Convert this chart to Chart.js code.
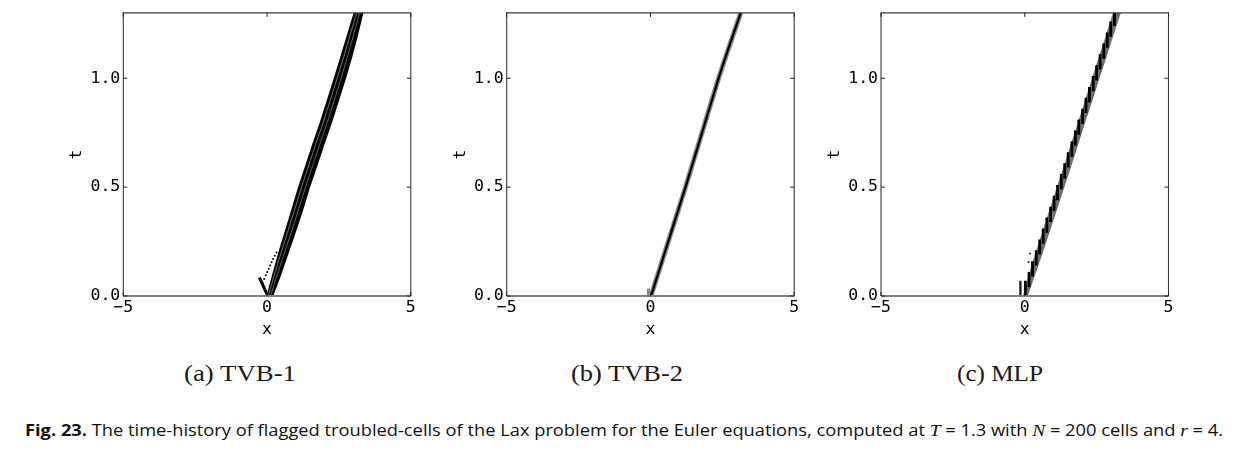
<!DOCTYPE html>
<html><head><meta charset="utf-8">
<script src="https://cdn.jsdelivr.net/npm/chart.js@4.4.1/dist/chart.umd.min.js"></script>
<style>
html,body{margin:0;padding:0;background:#fff;}
body{width:1254px;height:462px;position:relative;overflow:hidden;}
canvas{position:absolute;top:0;}
.sub{position:absolute;top:361px;line-height:26px;font-family:"Liberation Serif","DejaVu Serif",serif;font-size:22.5px;color:#1a1a1a;white-space:nowrap;transform-origin:left top;}
#cap{position:absolute;top:419px;left:25px;line-height:22px;font-family:"Open Sans","Noto Sans",sans-serif;font-size:16px;color:#111;white-space:nowrap;transform-origin:left top;}
#cap i{font-family:"Liberation Serif",serif;font-size:17px;}
</style></head><body>
<canvas id="pa" width="370" height="343"></canvas>
<canvas id="pb" width="370" height="343"></canvas>
<canvas id="pc" width="370" height="343"></canvas>
<div class="sub" id="sa"></div>
<div class="sub" id="sb"></div>
<div class="sub" id="sc"></div>
<div id="cap"><b>Fig. 23.</b> The time-history of flagged troubled-cells of the Lax problem for the Euler equations, computed at <i>T</i> = 1.3 with <i>N</i> = 200 cells and <i>r</i> = 4.</div>
<script>
// ---------- data ----------
const xTicks = [-5, 0, 5];
const tTicks = [0.0, 0.5, 1.0];
const panelTitles = ['(a) TVB-1', '(b) TVB-2', '(c) MLP'];

// (a) TVB-1 : flagged band (left / right edges), inner stripes, left leg, dots
const tvb1T      = [0.00,0.05,0.10,0.20,0.30,0.40,0.50,0.60,0.70,0.80,0.90,1.00,1.10,1.20,1.30];
const tvb1Left   = [-0.02,0.08,0.18,0.39,0.62,0.85,1.08,1.33,1.58,1.84,2.08,2.32,2.55,2.78,3.01];
const tvb1Right  = [0.22,0.36,0.50,0.76,1.02,1.27,1.50,1.76,2.01,2.27,2.51,2.75,2.97,3.17,3.35];
const tvb1StripeA= [0.05,0.15,0.26,0.49,0.73,0.97,1.20,1.45,1.70,1.96,2.20,2.44,2.67,2.89,3.12];
const tvb1StripeB= [0.12,0.24,0.36,0.61,0.86,1.10,1.34,1.59,1.84,2.10,2.34,2.58,2.80,3.01,3.22];
const tvb1LegX   = [0.03,-0.08,-0.18,-0.27];
const tvb1LegT   = [0.00,0.03,0.06,0.085];
const tvb1DotX   = [-0.16,-0.10,-0.04,0.01,0.06,0.11,0.16,0.21,0.27,0.33];
const tvb1DotT   = [0.060,0.078,0.095,0.110,0.125,0.140,0.155,0.170,0.185,0.200];

// (b) TVB-2 : thin flagged line
const tvb2T      = [0.00,0.10,0.20,0.30,0.40,0.50,0.60,0.70,0.80,0.90,1.00,1.10,1.20,1.30];
const tvb2X      = [0.02,0.26,0.50,0.74,0.98,1.22,1.45,1.68,1.91,2.14,2.37,2.62,2.88,3.14];
const tvb2StubX  = [-0.07,-0.07];
const tvb2StubT  = [0.00,0.035];

// (c) MLP : band, saw-teeth, spike, dots
const mlpT       = [0.00,0.05,0.10,0.20,0.30,0.40,0.50,0.60,0.70,0.80,0.90,1.00,1.10,1.20,1.30];
const mlpLeft    = [-0.06,0.04,0.14,0.38,0.62,0.87,1.12,1.37,1.61,1.86,2.10,2.34,2.58,2.83,3.07];
const mlpRight   = [0.10,0.24,0.37,0.63,0.88,1.13,1.38,1.63,1.87,2.11,2.36,2.60,2.85,3.09,3.34];
const mlpToothX  = [0.02,0.15,0.27,0.40,0.52,0.64,0.77,0.90,1.02,1.14,1.27,1.39,1.51,1.64,1.76,1.88,2.01,2.13,2.25,2.38,2.50,2.62,2.75,2.87,2.99,3.12];
const mlpToothT0 = [0.00,0.04,0.09,0.14,0.19,0.24,0.29,0.34,0.39,0.44,0.49,0.54,0.59,0.64,0.69,0.74,0.79,0.84,0.89,0.94,0.99,1.04,1.09,1.14,1.19,1.24];
const mlpToothT1 = [0.07,0.11,0.16,0.21,0.26,0.31,0.36,0.41,0.46,0.51,0.56,0.61,0.66,0.71,0.76,0.81,0.86,0.91,0.96,1.01,1.06,1.11,1.16,1.21,1.26,1.30];
const mlpSpikeX  = [-0.15,-0.15];
const mlpSpikeT  = [0.00,0.07];
const mlpDotX    = [0.13,0.18];
const mlpDotT    = [0.156,0.195];

// ---------- helpers ----------
const zip = (xs, ts) => xs.map((x, i) => ({x: x, y: ts[i]}));
const band = (l, r, ts) => zip(l, ts).concat(zip(r, ts).reverse());
const segs = (xs, t0, t1) => {
  const out = [];
  xs.forEach((x, i) => { out.push({x: x, y: t0[i]}, {x: x, y: t1[i]}, {x: x, y: null}); });
  return out;
};
const lineDs = (data, color, w) => ({data, showLine: true, borderColor: color, borderWidth: w, pointRadius: 0, fill: false, spanGaps: false, borderCapStyle: 'butt'});
const polyDs = (data, color) => ({data, polygon: true, polyColor: color, showLine: false, pointRadius: 0});
const dotDs  = (data, color, r) => ({data, showLine: false, pointRadius: r, backgroundColor: color, borderWidth: 0});

const MONO = "'DejaVu Sans Mono', monospace";
const FS = 16.5;
const PLOT_W = 287.5;
const CAN_W = 370;

const framePlugin = {
  id: 'frame',
  beforeDatasetDraw(chart, args) {
    const ds = chart.data.datasets[args.index];
    if (!ds.polygon) return;
    const pts = args.meta.data;
    const ctx = chart.ctx, a = chart.chartArea;
    ctx.save();
    ctx.beginPath(); ctx.rect(a.left, a.top, a.right - a.left, a.bottom - a.top); ctx.clip();
    ctx.beginPath();
    pts.forEach((p, i) => { if (i === 0) ctx.moveTo(p.x, p.y); else ctx.lineTo(p.x, p.y); });
    ctx.closePath();
    ctx.fillStyle = ds.polyColor;
    ctx.fill();
    ctx.restore();
  },
  afterDatasetsDraw(chart) {
    const ctx = chart.ctx, a = chart.chartArea;
    const xs = chart.scales.x, ys = chart.scales.y;
    ctx.save();
    ctx.strokeStyle = '#3a3a3a'; ctx.lineWidth = 1.1;
    ctx.beginPath();
    ctx.moveTo(a.left, a.bottom); ctx.lineTo(a.left, a.top); ctx.lineTo(a.right, a.top); ctx.lineTo(a.right, a.bottom);
    ctx.stroke();
    ctx.strokeStyle = '#808080'; ctx.lineWidth = 2;
    ctx.beginPath(); ctx.moveTo(a.left, a.bottom); ctx.lineTo(a.right, a.bottom); ctx.stroke();
    ctx.strokeStyle = '#222'; ctx.lineWidth = 1;
    const L = 4;
    xs.ticks.forEach(t => {
      const px = xs.getPixelForValue(t.value);
      ctx.beginPath();
      ctx.moveTo(px, a.bottom); ctx.lineTo(px, a.bottom - L);
      ctx.moveTo(px, a.top); ctx.lineTo(px, a.top + L);
      ctx.stroke();
    });
    ys.ticks.forEach(t => {
      const py = ys.getPixelForValue(t.value);
      ctx.beginPath();
      ctx.moveTo(a.left, py); ctx.lineTo(a.left + L, py);
      ctx.moveTo(a.right, py); ctx.lineTo(a.right - L, py);
      ctx.stroke();
    });
    ctx.restore();
  }
};

function makePanel(id, plotLeft, datasets) {
  const canvasLeft = Math.round(plotLeft - 59);
  const yW = plotLeft - canvasLeft;
  const cv = document.getElementById(id);
  cv.style.left = canvasLeft + 'px';
  return new Chart(cv, {
    type: 'scatter',
    data: {datasets},
    plugins: [framePlugin],
    options: {
      responsive: false, animation: false, devicePixelRatio: 1,
      layout: {padding: {top: 11, right: CAN_W - yW - PLOT_W, bottom: 0, left: 0}},
      plugins: {legend: {display: false}, tooltip: {enabled: false}},
      elements: {line: {tension: 0}},
      scales: {
        x: {
          type: 'linear', min: -5, max: 5,
          afterBuildTicks: s => { s.ticks = xTicks.map(v => ({value: v})); },
          afterFit: s => { s.height = 47; },
          grid: {display: false, drawTicks: false}, border: {display: false},
          ticks: {padding: 2, color: '#000', maxRotation: 0, autoSkip: false,
                  font: {family: MONO, size: FS},
                  callback: v => v < 0 ? '\u2212' + Math.abs(v) : String(v)},
          title: {display: true, text: 'x', color: '#000', font: {family: MONO, size: FS}, padding: {top: 0, bottom: 3}}
        },
        y: {
          type: 'linear', min: 0, max: 1.3,
          afterBuildTicks: s => { s.ticks = tTicks.map(v => ({value: v})); },
          afterFit: s => { s.width = yW; },
          grid: {display: false, drawTicks: false}, border: {display: false},
          ticks: {padding: 3, color: '#000', autoSkip: false,
                  font: {family: MONO, size: FS},
                  callback: v => Number(v).toFixed(1)},
          title: {display: true, text: 't', color: '#000', font: {family: MONO, size: FS}, padding: {top: 3, bottom: 0}}
        }
      }
    }
  });
}

// datasets listed top layer first
makePanel('pa', 123.3, [
  dotDs(zip(tvb1DotX, tvb1DotT), '#000', 1.0),
  lineDs(zip(tvb1StripeA, tvb1T), 'rgba(255,255,255,0.6)', 0.7),
  lineDs(zip(tvb1StripeB, tvb1T), 'rgba(255,255,255,0.5)', 0.7),
  lineDs(zip(tvb1LegX, tvb1LegT), '#000', 3),
  polyDs(band(tvb1Left, tvb1Right, tvb1T), '#050505')
]);

makePanel('pb', 506.7, [
  lineDs(zip(tvb2X, tvb2T), '#000', 2.2),
  lineDs(zip(tvb2X, tvb2T), '#8a8a8a', 5),
  lineDs(zip(tvb2StubX, tvb2StubT), '#888', 3)
]);

makePanel('pc', 881, [
  dotDs(zip(mlpDotX, mlpDotT), '#222', 1.0),
  lineDs(zip(mlpSpikeX, mlpSpikeT), '#111', 2.2),
  lineDs(segs(mlpToothX, mlpToothT0, mlpToothT1), '#000', 2.8),
  polyDs(band(mlpLeft, mlpRight, mlpT), '#6e6e6e')
]);

// ---------- captions ----------
const subCenters = [240, 627, 1000];
const subWidths = [112, 112, 86];
['sa', 'sb', 'sc'].forEach((id, i) => {
  const el = document.getElementById(id);
  el.textContent = panelTitles[i];
  const w = el.getBoundingClientRect().width;
  const s = subWidths[i] / w;
  el.style.transform = 'scaleX(' + s + ')';
  el.style.left = (subCenters[i] - subWidths[i] / 2) + 'px';
});
const cap = document.getElementById('cap');
const cw = cap.getBoundingClientRect().width;
cap.style.transform = 'scaleX(' + (1198 / cw) + ')';
</script>
</body></html>
